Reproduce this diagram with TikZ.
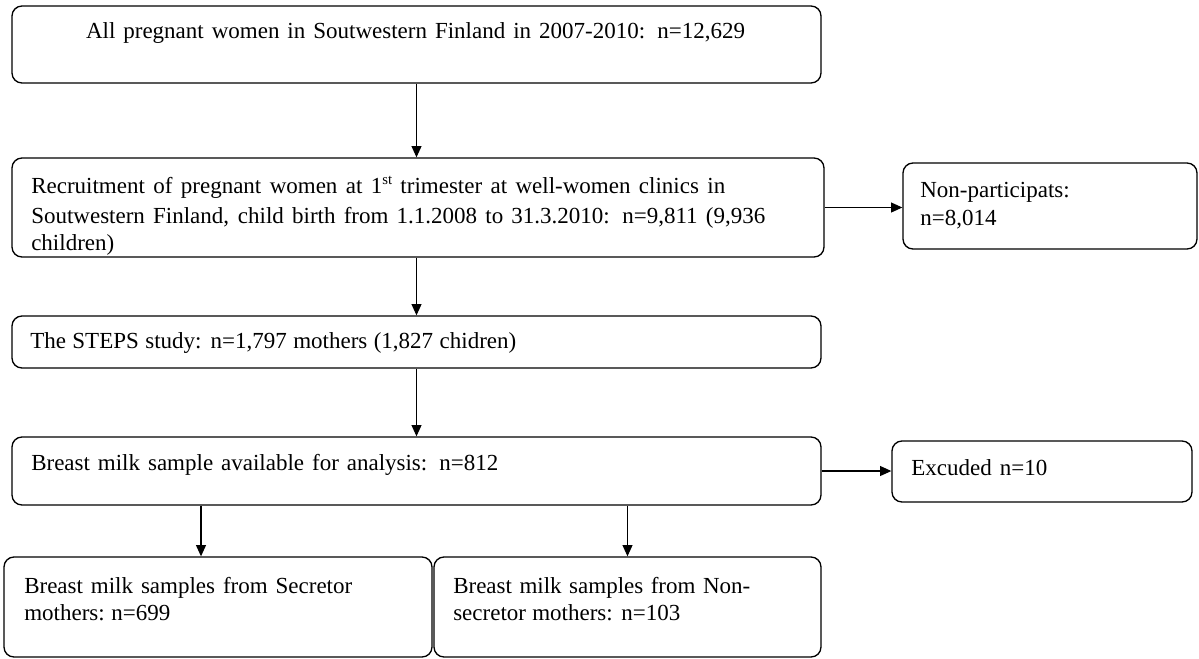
\documentclass[tikz,border=0pt]{standalone}
\usepackage{fontspec}
\setmainfont{Liberation Serif}
\usetikzlibrary{arrows.meta}
\begin{document}
\begin{tikzpicture}[x=0.75pt,y=-0.75pt,
  box/.style={draw=black, line width=1pt, rounded corners=7.5pt, inner sep=0pt, rectangle},
  txt/.style={inner sep=0pt, anchor=base west, font=\fontsize{17.25pt}{22pt}\selectfont},
  arr/.style={draw=black, line width=0.9pt, -{Triangle[length=8.5pt,width=7.5pt]}}]
\fill[white] (0,0) rectangle (1199,658);
\useasboundingbox (0,0) rectangle (1199,658);
% boxes
\node[box, minimum width=606.75pt, minimum height=57.75pt] (b1) at (416.5,44.5) {};
\node[box, minimum width=609pt, minimum height=74.25pt] (b2) at (418,207.5) {};
\node[box, minimum width=220.5pt, minimum height=64.5pt] (np) at (1050,206) {};
\node[box, minimum width=606.75pt, minimum height=39pt] (b3) at (416.5,342) {};
\node[box, minimum width=606.75pt, minimum height=51pt] (b4) at (416.5,471) {};
\node[box, minimum width=225pt, minimum height=45.75pt] (ex) at (1042,471.5) {};
\node[box, minimum width=321pt, minimum height=75pt] (b5) at (218,607) {};
\node[box, minimum width=290.25pt, minimum height=75pt] (b6) at (627.5,607) {};
% texts
\node[txt, anchor=base] (t1) at (415.5,38) {\makebox[494.25pt][s]{All pregnant women in Soutwestern Finland in 2007-2010: n=12,629}};
\node[txt] (t2a) at (31,193) {\makebox[520.5pt][s]{Recruitment of pregnant women at 1\raisebox{0.35em}{\fontsize{11pt}{11pt}\selectfont st} trimester at well-women clinics in}};
\node[txt] (t2b) at (31,223) {\makebox[550.5pt][s]{Soutwestern Finland, child birth from 1.1.2008 to 31.3.2010: n=9,811 (9,936}};
\node[txt] (t2c) at (31,250) {children)};
\node[txt] (tnpa) at (920,197) {\makebox[111.75pt][s]{Non-participats:}};
\node[txt] (tnpb) at (920,225) {n=8,014};
\node[txt] (t3) at (30,348) {\makebox[364.5pt][s]{The STEPS study: n=1,797 mothers (1,827 chidren)}};
\node[txt] (t4) at (31,470) {\makebox[350.25pt][s]{Breast milk sample available for analysis: n=812}};
\node[txt] (tex) at (911,475) {\makebox[102pt][s]{Excuded n=10}};
\node[txt] (t5a) at (24,593) {\makebox[246pt][s]{Breast milk samples from Secretor}};
\node[txt] (t5b) at (24,620) {\makebox[109.5pt][s]{mothers: n=699}};
\node[txt] (t6a) at (453,593) {\makebox[222.75pt][s]{Breast milk samples from Non-}};
\node[txt] (t6b) at (453,620) {\makebox[170.25pt][s]{secretor mothers: n=103}};
% connectors
\coordinate (xl) at (201,0);
\draw[arr] (b1.south) -- (b1.south |- b2.north);
\draw[arr] (b2.east) -- (b2.east -| np.west);
\draw[arr] (b3.north |- b2.south) -- (b3.north);
\draw[arr] (b3.south) -- (b4.north);
\draw[arr] (b4.east) -- (b4.east -| ex.west);
\draw[arr] (b4.south -| xl) -- (b5.north -| xl);
\draw[arr] (b4.south -| b6.north) -- (b6.north);
\end{tikzpicture}
\end{document}
